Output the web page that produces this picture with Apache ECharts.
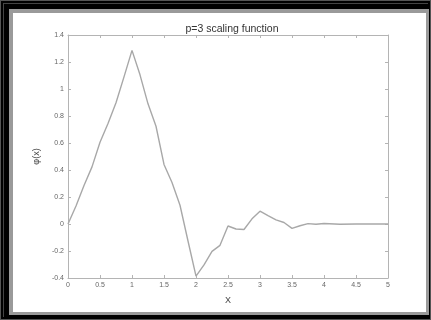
<!DOCTYPE html>
<html>
<head>
<meta charset="utf-8">
<script src="https://cdn.jsdelivr.net/npm/echarts@6/dist/echarts.min.js"></script>
<style>
  html, body { margin: 0; padding: 0; background: #000; width: 431px; height: 320px; overflow: hidden; }
  #line1 { position: absolute; left: 0; top: 0; width: 429px; height: 318px; border: 1px solid #555; }
  #line2 { position: absolute; left: 3px; top: 3px; width: 424px; height: 313px; border: 1px solid #444; border-right: none; border-bottom: none; }
  #frame { position: absolute; left: 9px; top: 9px; width: 420px; height: 306px; background: #9a9a9a; }
  #chart { position: absolute; left: 13px; top: 13px; width: 413px; height: 299px; background: #fff; }
</style>
</head>
<body>
<div id="line1"></div>
<div id="line2"></div>
<div id="frame"></div>
<div id="chart"></div>
<script>
// x positions and phi(x) values
const xs = [0, 0.125, 0.25, 0.375, 0.5, 0.625, 0.75, 0.875,
            1, 1.125, 1.25, 1.375, 1.5, 1.625, 1.75, 1.875,
            2, 2.125, 2.25, 2.375, 2.5, 2.625, 2.75, 2.875,
            3, 3.125, 3.25, 3.375, 3.5, 3.625, 3.75, 3.875,
            4, 4.25, 4.5, 4.75, 5];
const ys = [0, 0.134, 0.285, 0.423, 0.605, 0.744, 0.898, 1.09,
            1.286, 1.105, 0.89, 0.724, 0.441, 0.307, 0.139, -0.126,
            -0.386, -0.303, -0.203, -0.158, -0.015, -0.037, -0.041, 0.038,
            0.095, 0.062, 0.03, 0.011, -0.032, -0.013, 0.003, -0.002,
            0.004, -0.002, 0.0, 0.0, 0];

const AXIS_COLOR = "#b4b4b4";
const LABEL_COLOR = "#666";

const chart = echarts.init(document.getElementById("chart"));

const boxAxis = {
  axisLine: { show: true, onZero: false, lineStyle: { color: AXIS_COLOR, width: 1 } },
  axisTick: { show: true, inside: true, length: 3, lineStyle: { color: AXIS_COLOR } },
  splitLine: { show: false },
};

chart.setOption({
  animation: false,
  backgroundColor: "#fff",
  title: {
    text: "p=3 scaling function",
    left: 214, top: 6, textAlign: "center",
    textStyle: { fontFamily: "Liberation Sans", fontSize: 10.5, fontWeight: "normal", color: "#333" },
  },
  grid: { left: 55, right: 38, top: 22, bottom: 34 },
  xAxis: [{
    type: "value", min: 0, max: 5, interval: 0.5,
    name: "X", nameLocation: "middle", nameGap: 18,
    nameTextStyle: { fontFamily: "Liberation Sans", fontSize: 9, color: "#444" },
    axisLabel: { fontFamily: "Liberation Sans", fontSize: 7, color: LABEL_COLOR, margin: 4 },
    ...boxAxis,
  }, {
    type: "value", min: 0, max: 5, interval: 0.5, position: "top",
    axisLabel: { show: false },
    ...boxAxis,
  }],
  yAxis: [{
    type: "value", min: -0.4, max: 1.4, interval: 0.2,
    name: "φ(x)", nameLocation: "middle", nameGap: 19, nameRotate: 90,
    nameTextStyle: { fontFamily: "Liberation Sans", fontSize: 9, color: "#444" },
    axisLabel: { fontFamily: "Liberation Sans", fontSize: 7, color: LABEL_COLOR, margin: 4 },
    ...boxAxis,
  }, {
    type: "value", min: -0.4, max: 1.4, interval: 0.2, position: "right",
    axisLabel: { show: false },
    ...boxAxis,
  }],
  series: [{
    type: "line",
    data: xs.map((x, i) => [x, ys[i]]),
    showSymbol: false,
    lineStyle: { color: "#a8a8a8", width: 1.4 },
  }],
});
</script>
</body>
</html>
